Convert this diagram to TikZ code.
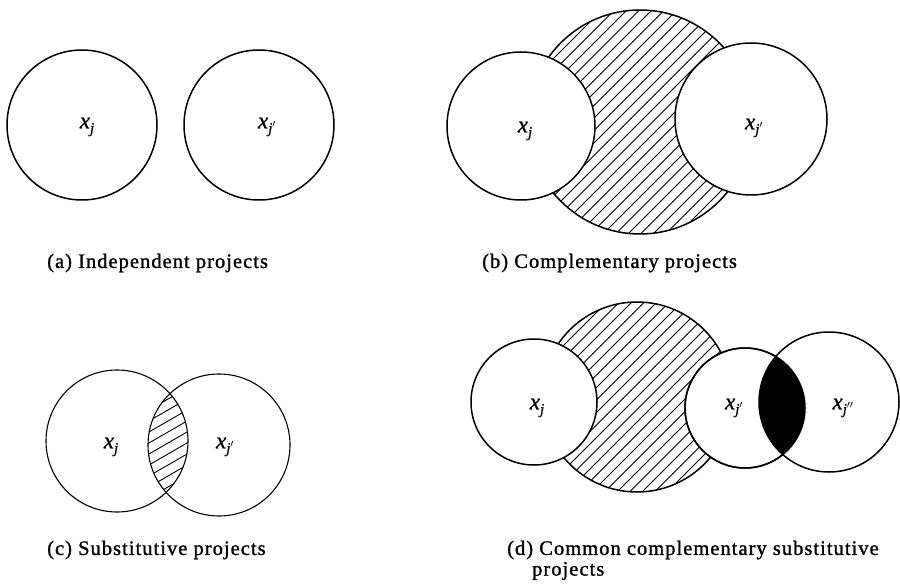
\documentclass[tikz,border=0pt]{standalone}
\usepackage{fontspec}
\setmainfont{Liberation Serif}
\newfontfamily\capfont[LetterSpace=5,FakeBold=1.2]{Liberation Serif}
\newfontfamily\labfont[FakeBold=0.8]{Liberation Serif}
\newcommand\xlab[1]{{\labfont\itshape x\raisebox{-0.45ex}{\fontsize{15}{15}\selectfont #1}}}
\begin{document}
\begin{tikzpicture}[x=1pt,y=-1pt,
  proj/.style={circle, draw, line width=1.5pt, inner sep=0pt, fill=white, minimum size=#1},
  thinproj/.style={circle, draw, line width=1.1pt, inner sep=0pt, minimum size=#1},
  bigc/.style={circle, draw, line width=1.5pt, inner sep=0pt, minimum size=#1},
  hatch/.style={line width=0.9pt},
  lab/.style={font=\fontsize{23}{23}\selectfont, inner sep=0pt},
  captext/.style={font=\capfont\fontsize{20.5}{22}\selectfont, anchor=west, inner sep=0pt}]
\useasboundingbox (0,0) rectangle (900,588);

% ---------- (a) ----------
\node[proj=150pt] (a1) at (82,125) {};
\node[proj=150pt] (a2) at (259,125) {};
\node[lab] (la1) at (87,127) {\xlab{j}};
\node[lab] (la2) at (267,127) {\xlab{j$'$}};
\node[captext] (capa) at (47,263) {(a) Independent projects};

% ---------- (b) ----------
\begin{scope}
  \clip (640,122) circle (112pt);
  \foreach \k in {-24,...,24}
    \draw[hatch] ({640+\k*12.5-140},{122+140}) -- ++(280,-280);
\end{scope}
\node[bigc=224pt] (b0) at (640,122) {};
\node[proj=148pt] (b1) at (521,126) {};
\node[proj=152pt] (b2) at (751,119) {};
\node[lab] (lb1) at (525,131) {\xlab{j}};
\node[lab] (lb2) at (754,128) {\xlab{j$'$}};
\node[captext] (capb) at (482,263) {(b) Complementary projects};

% ---------- (c) ----------
\begin{scope}
  \clip (117,441) circle (71pt);
  \clip (219,445) circle (71pt);
  \foreach \k in {-9,...,9}
    \draw[hatch] ({168-120},{443+\k*11+69.3}) -- ++(240,-138.6);
\end{scope}
\node[thinproj=142pt] (c1) at (117,441) {};
\node[thinproj=142pt] (c2) at (219,445) {};
\node[lab] (lc1) at (111,447) {\xlab{j}};
\node[lab] (lc2) at (225,447) {\xlab{j$'$}};
\node[captext] (capc) at (47,550) {(c) Substitutive projects};

% ---------- (d) ----------
\begin{scope}
  \clip (637,397) circle (95pt);
  \foreach \k in {-20,...,20}
    \draw[hatch] ({637+\k*12.5-120},{397+120}) -- ++(240,-240);
\end{scope}
\node[bigc=190pt] (d0) at (637,397) {};
\node[proj=126pt] (d1) at (534,402) {};
\node[proj=120pt] (d2) at (745,408) {};
\node[proj=140pt] (d3) at (829,402) {};
\begin{scope}
  \clip (745,408) circle (60pt);
  \fill[black] (829,402) circle (70pt);
\end{scope}
\draw[line width=1.5pt] (d2.center) circle (60pt);
\node[lab] (ld1) at (537,408) {\xlab{j}};
\node[lab] (ld2) at (734,408) {\xlab{j$'$}};
\node[lab] (ld3) at (843,408) {\xlab{j$''$}};
\node[captext] (capd) at (507,550) {(d) Common complementary substitutive};
\node[captext] (capd2) at (532,571) {projects};
\end{tikzpicture}
\end{document}
